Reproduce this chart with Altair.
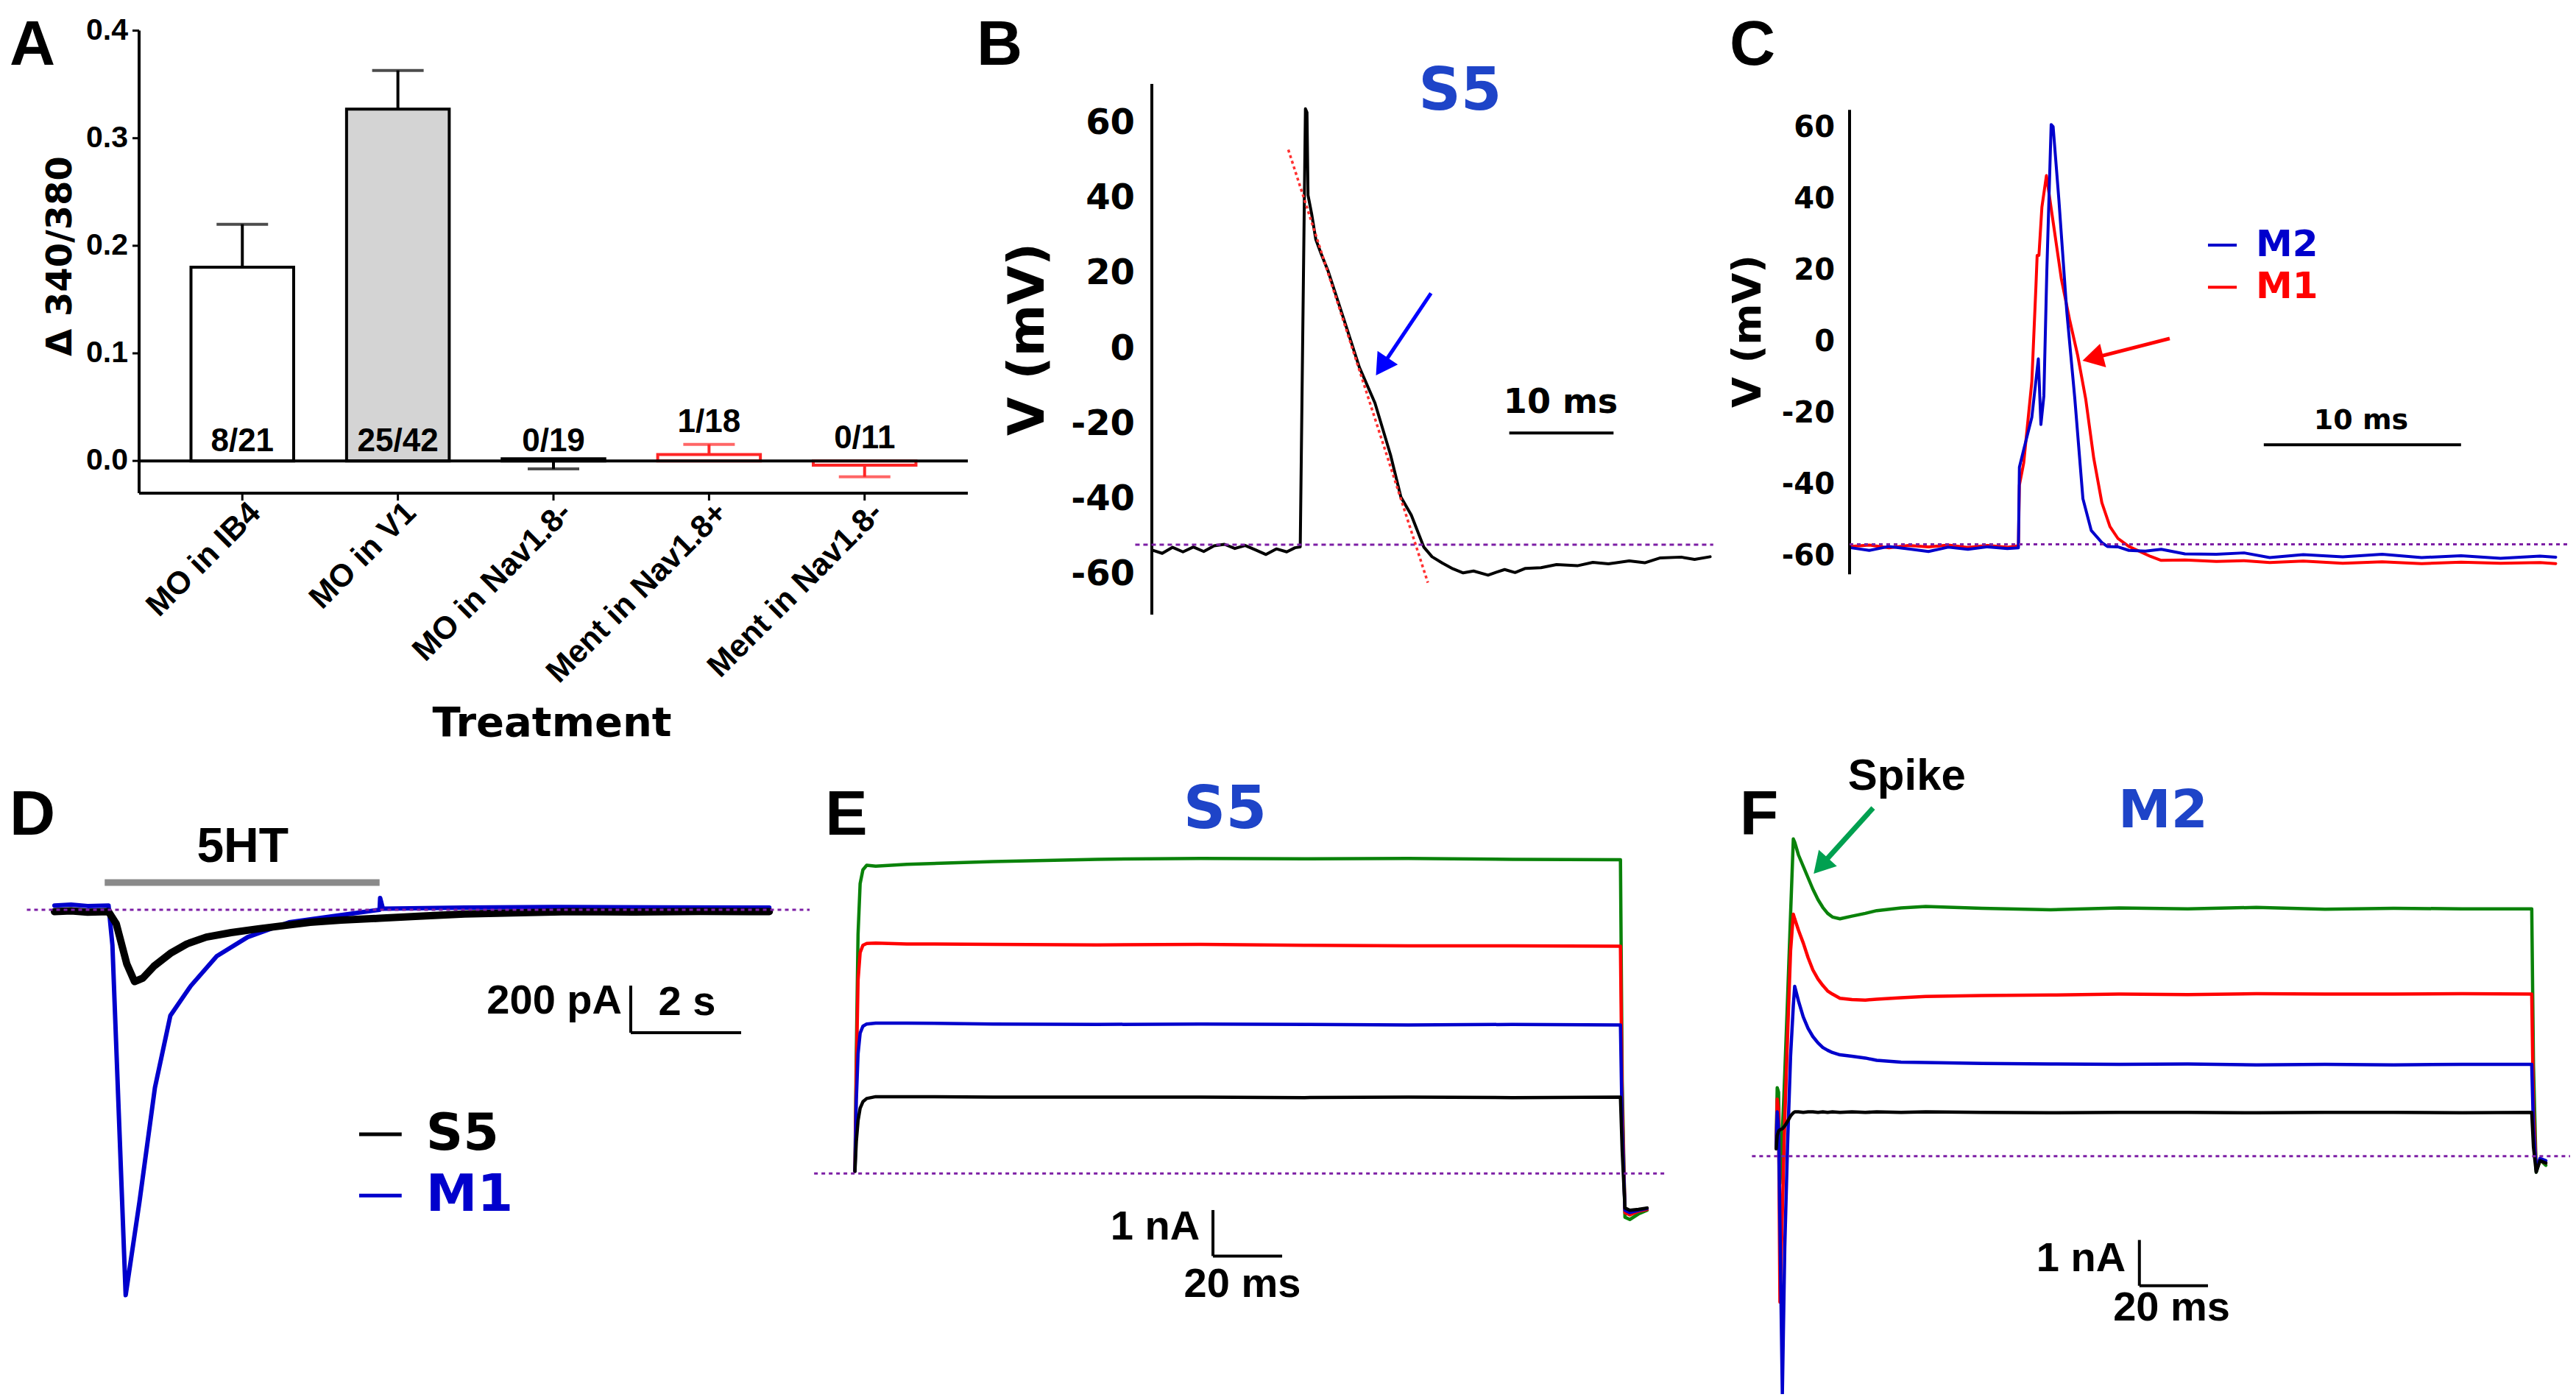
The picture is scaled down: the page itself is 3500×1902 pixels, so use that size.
import altair as alt
import pandas as pd

# ------------------------------------------------------------------ data
# Panel A : bar chart
a_cats = ["MO in IB4", "MO in V1", "MO in Nav1.8-", "Ment in Nav1.8+", "Ment in Nav1.8-"]
a_vals = [0.180, 0.327, 0.002, 0.006, -0.004]
a_err_tip = [0.220, 0.363, -0.0075, 0.0154, -0.0148]
a_counts = ["8/21", "25/42", "0/19", "1/18", "0/11"]
a_count_y = [0.0178, 0.0178, 0.0178, 0.0356, 0.0205]
a_yticks = [0.0, 0.1, 0.2, 0.3, 0.4]

# Panel B : S5 action potential (ms, mV)
b_t = [0.1, 1.0, 2.0, 3.0, 4.0, 5.0, 6.0, 7.0, 8.0, 9.0, 10.0, 11.0, 12.0, 13.0, 13.8, 14.3,
       14.8, 14.95, 15.05, 15.4, 15.8, 16.3, 17.0, 18.5, 20.0, 21.5, 23.0, 24.0, 25.0, 26.2,
       27.0, 28.0, 29.0, 30.0, 31.0, 32.4, 33.2, 34.0, 35.0, 36.0, 37.5, 39.0, 41.0, 42.5,
       44.0, 46.0, 47.5, 49.0, 51.0, 52.3, 53.8]
b_v = [-53.5, -54.3, -52.7, -53.9, -52.6, -53.8, -52.3, -51.9, -53.0, -52.2, -53.4, -54.6,
       -53.1, -53.9, -52.8, -52.6, 64.0, 63.0, 41.0, 36.0, 29.2, 25.5, 20.7, 8.0, -4.8, -14.3,
       -28.1, -39.3, -44.1, -52.6, -55.2, -56.9, -58.4, -59.5, -59.0, -60.1, -59.3, -58.6,
       -59.4, -58.3, -58.1, -57.3, -57.6, -56.7, -57.1, -56.3, -56.8, -55.5, -55.3, -55.9, -55.2]
b_rest = -52.0
b_fit = [(13.15, 53.1), (26.6, -62.1)]
b_yticks = [-60, -40, -20, 0, 20, 40, 60]

# Panel C : M2 / M1 action potentials (ms, mV)
c_t_m2 = [0, 1, 2, 3, 4, 5, 6, 7, 8, 8.56, 8.61, 8.83, 9.24, 9.57, 9.70, 9.85, 10.0, 10.22,
          10.32, 10.61, 11.01, 11.42, 11.83, 12.25, 12.79, 13.07, 13.6, 14.16, 15.0, 15.8, 17.0,
          18.6, 20.0, 21.3, 23.0, 25.0, 27.0, 29.0, 31.0, 33.0, 35.0, 35.8]
c_v_m2 = [-57.5, -58.3, -57.2, -57.9, -58.6, -57.4, -58.0, -57.3, -57.8, -57.6, -35.0, -30.0,
          -21.0, -4.6, -23.0, -15.0, 20.0, 61.1, 60.5, 40.1, 8.8, -15.8, -43.8, -52.7, -56.1,
          -57.2, -57.3, -58.3, -58.5, -58.0, -59.3, -59.4, -59.0, -60.3, -59.5, -60.1, -59.4,
          -60.3, -59.8, -60.5, -59.9, -60.2]
c_t_m1 = [0, 1, 2, 3, 4, 5, 6, 7, 8, 8.56, 8.61, 8.83, 9.24, 9.45, 9.51, 9.60, 9.75, 9.98,
          10.33, 10.74, 11.15, 11.56, 11.97, 12.38, 12.79, 13.2, 13.61, 14.16, 15.26, 15.8, 17.0,
          18.6, 20.0, 21.3, 23.0, 25.0, 27.0, 29.0, 31.0, 33.0, 35.0, 35.8]
c_v_m1 = [-57.2, -56.8, -57.6, -56.9, -57.3, -56.8, -57.5, -56.9, -57.4, -57.0, -40.0, -33.7,
          -11.0, 16.0, 24.4, 24.4, 37.9, 46.8, 33.4, 17.7, 6.5, -3.5, -15.8, -32.5, -44.9,
          -51.6, -55.0, -57.2, -60.0, -61.1, -61.0, -61.4, -61.2, -61.7, -61.3, -61.9, -61.5,
          -62.0, -61.6, -61.9, -61.7, -62.0]
c_rest = -56.6
c_yticks = [-60, -40, -20, 0, 20, 40, 60]
c_series = ["M2", "M1"]

# Panel D : 5HT currents (s, pA)
d_t_s5 = [0.0, 0.3, 0.6, 0.98, 1.12, 1.31, 1.45, 1.6, 1.8, 2.1, 2.4, 2.75, 3.2, 3.69, 4.2,
          4.63, 5.2, 5.89, 6.6, 7.43, 8.3, 9.3, 10.5, 11.7, 12.95]
d_v_s5 = [-8, -5, -10, -8, -60, -230, -305, -290, -240, -185, -145, -116, -97, -81, -66, -53,
          -44, -36, -27, -18, -13, -8, -9, -7, -8]
d_t_m1 = [0.0, 0.3, 0.6, 0.98, 1.05, 1.29, 1.54, 1.82, 2.1, 2.47, 2.94, 3.5, 4.25, 5.09, 5.89,
          5.9, 5.95, 7.43, 9.0, 11.0, 12.95]
d_v_m1 = [18, 22, 16, 18, -150, -1636, -1240, -755, -449, -323, -197, -116, -53, -26, 0, 50, 5,
          9, 12, 10, 9]
d_5ht = (0.91, 5.89)
d_series = ["S5", "M1"]

# Panel E : S5 current steps (ms, nA)
e_t = [0, 0.4, 0.9, 1.5, 2.3, 3.4, 6, 15, 40, 70, 100, 130, 160, 190, 221.3, 221.8, 222.6,
       224, 226.5, 229]
e_green = [0.05, 2.6, 5.2, 6.3, 6.6, 6.7, 6.68, 6.72, 6.78, 6.83, 6.85, 6.84, 6.85, 6.83, 6.82,
           2.0, -0.95, -1.0, -0.88, -0.8]
e_red = [0.05, 2.2, 4.2, 4.8, 4.96, 5.0, 5.01, 4.99, 4.98, 4.97, 4.98, 4.96, 4.95, 4.95, 4.94,
         1.5, -0.85, -0.9, -0.82, -0.78]
e_blue = [0.05, 1.6, 2.6, 3.05, 3.2, 3.25, 3.27, 3.27, 3.25, 3.24, 3.25, 3.24, 3.23, 3.24, 3.23,
          1.0, -0.8, -0.85, -0.8, -0.76]
e_black = [0.05, 0.7, 1.15, 1.42, 1.56, 1.63, 1.67, 1.67, 1.66, 1.66, 1.66, 1.65, 1.66, 1.65,
           1.66, 0.5, -0.75, -0.8, -0.78, -0.75]

# Panel F : M2 current steps (ms, nA)
f_t = [0, 0.3, 0.7, 1.1, 1.8, 2.5, 3.3, 4.2, 5.0, 5.4, 6.5, 7.9, 9.3, 10.7, 12.2, 13.6, 15.0,
       16.4, 18.6, 22.1, 26, 29.3, 36.4, 43.6, 60, 80, 100, 120, 140, 160, 180, 200, 220.3,
       220.8, 221.6, 222.7, 224.4]
f_green = [0.2, 1.5, 1.4, -0.6, 0.5, 1.8, 3.4, 5.3, 6.95, 6.88, 6.6, 6.35, 6.1, 5.85, 5.62,
           5.45, 5.32, 5.24, 5.2, 5.26, 5.32, 5.38, 5.44, 5.47, 5.43, 5.4, 5.44, 5.42, 5.45,
           5.41, 5.43, 5.42, 5.42, 2.0, -0.35, -0.08, -0.2]
f_red = [0.2, 1.25, 1.0, -3.2, -1.2, 0.8, 2.6, 4.5, 5.3, 5.2, 4.95, 4.67, 4.35, 4.08, 3.88,
         3.74, 3.62, 3.55, 3.46, 3.43, 3.42, 3.44, 3.47, 3.5, 3.52, 3.53, 3.55, 3.54, 3.56,
         3.55, 3.55, 3.56, 3.55, 1.0, -0.3, -0.1, -0.15]
f_blue = [0.2, 0.97, 0.6, -1.5, -5.2, -2.0, 0.2, 2.2, 3.3, 3.72, 3.4, 3.05, 2.8, 2.62, 2.48,
          2.38, 2.32, 2.27, 2.22, 2.19, 2.15, 2.1, 2.06, 2.05, 2.03, 2.02, 2.01, 2.02, 2.0,
          2.01, 2.0, 2.01, 2.01, 0.6, -0.3, -0.05, -0.1]
f_black = [0.16, 0.45, 0.55, 0.58, 0.6, 0.66, 0.76, 0.88, 0.95, 0.97, 0.97, 0.96, 0.97, 0.97,
           0.96, 0.97, 0.96, 0.97, 0.96, 0.97, 0.96, 0.97, 0.96, 0.97, 0.96, 0.95, 0.96, 0.96,
           0.95, 0.96, 0.96, 0.95, 0.96, 0.2, -0.35, -0.1, -0.15]

# ------------------------------------------------------------------ layout / style
OFF = 8                      # page margin
W, H = 3484, 1886


def px(v):
    return v - OFF


FONT = "Liberation Sans, Arial, sans-serif"
VFONT = "DejaVu Sans, Verdana, sans-serif"
BLACK, RED, BLUE, GREEN = "#000000", "#ff0000", "#0000cc", "#0a820a"
TITLE_BLUE = "#1e44c8"
PURPLE = "#7d1fa5"
A_FILL = ["#ffffff", "#d4d4d4", "#ffffff", "#ffffff", "#ffffff"]
A_EDGE = [BLACK, BLACK, BLACK, "#ff2525", "#ff2525"]
ONE = pd.DataFrame({"k": [0]})


def trace(t, v, xs, ys, color, width):
    df = pd.DataFrame({"t": t, "v": v, "i": list(range(len(t)))})
    return alt.Chart(df).mark_line(color=color, strokeWidth=width, strokeJoin="round",
                                   strokeCap="round").encode(
        x=alt.X("t:Q", scale=xs, axis=None),
        y=alt.Y("v:Q", scale=ys, axis=None),
        order="i:Q")


def seg(p0, p1, xs, ys, color, width, dash=None):
    df = pd.DataFrame({"t": [p0[0]], "t2": [p1[0]], "v": [p0[1]], "v2": [p1[1]]})
    kw = dict(color=color, strokeWidth=width)
    if dash:
        kw["strokeDash"] = dash
    return alt.Chart(df).mark_rule(**kw).encode(
        x=alt.X("t:Q", scale=xs, axis=None), x2="t2:Q",
        y=alt.Y("v:Q", scale=ys, axis=None), y2="v2:Q")


def label(text, p, xs, ys, size, color=BLACK, font=FONT, align="center"):
    df = pd.DataFrame({"t": [p[0]], "v": [p[1]], "s": [text]})
    return alt.Chart(df).mark_text(font=font, fontSize=size, fontWeight="bold", color=color,
                                   align=align, baseline="middle").encode(
        x=alt.X("t:Q", scale=xs, axis=None), y=alt.Y("v:Q", scale=ys, axis=None), text="s:N")


def head(p, xs, ys, color, angle, size=1100):
    df = pd.DataFrame({"t": [p[0]], "v": [p[1]]})
    return alt.Chart(df).mark_point(shape="triangle-up", filled=True, size=size, angle=angle,
                                    color=color, opacity=1, strokeWidth=0).encode(
        x=alt.X("t:Q", scale=xs, axis=None), y=alt.Y("v:Q", scale=ys, axis=None))


def free_text(s, x, y, size, font=FONT, angle=0, align="center", baseline="middle"):
    return alt.Chart(ONE).mark_text(text=s, font=font, fontSize=size, fontWeight="bold",
                                    color=BLACK, angle=angle, align=align,
                                    baseline=baseline).encode(
        x=alt.value(px(x)), y=alt.value(px(y)))


def y_axis(ys, ax_x, lo, hi, ticks, lab_right, size, font):
    line = alt.Chart(pd.DataFrame({"a": [lo], "b": [hi]})).mark_rule(
        color=BLACK, strokeWidth=4).encode(
        x=alt.value(px(ax_x)), y=alt.Y("a:Q", scale=ys, axis=None), y2="b:Q")
    labs = alt.Chart(pd.DataFrame({"v": ticks, "s": [str(t) for t in ticks]})).mark_text(
        font=font, fontSize=size, fontWeight="bold", align="right", baseline="middle",
        color=BLACK).encode(
        x=alt.value(px(lab_right)), y=alt.Y("v:Q", scale=ys, axis=None), text="s:N")
    return [line, labs]


def qscale(domain, r0, r1):
    return alt.Scale(domain=domain, range=[px(r0), px(r1)], nice=False, zero=False)


# ------------------------------------------------------------------ panel A
dfA = pd.DataFrame({"cat": a_cats, "val": a_vals, "tip": a_err_tip, "lab": a_counts,
                    "ly": a_count_y})
dfA["base"] = 0.0
A_LEFT, A_RIGHT, A_BOTTOM = 189, 1315, 670
A_YMIN = -0.03
xsA = alt.Scale(domain=a_cats, range=[px(A_LEFT), px(A_RIGHT)], paddingInner=0.34,
                paddingOuter=0.3335)
ysA = qscale([A_YMIN, 0.4], A_BOTTOM, 41.6)
A_PPU = (A_BOTTOM - 41.6) / 0.43          # pixels per unit on the y axis
xA = alt.X("cat:N", sort=a_cats, scale=xsA, axis=None)
edge = alt.Scale(domain=a_cats, range=A_EDGE)

a_bars = alt.Chart(dfA).mark_bar(strokeWidth=4).encode(
    x=xA, y=alt.Y("val:Q", scale=ysA, axis=None), y2="base:Q",
    fill=alt.Fill("cat:N", scale=alt.Scale(domain=a_cats, range=A_FILL), legend=None),
    stroke=alt.Stroke("cat:N", scale=edge, legend=None))
a_zero = alt.Chart(pd.DataFrame({"z": [0.0]})).mark_rule(color=BLACK, strokeWidth=4).encode(
    y=alt.Y("z:Q", scale=ysA, axis=None), x=alt.value(px(A_LEFT)), x2=alt.value(px(A_RIGHT)))
a_err = alt.Chart(dfA).mark_rule(strokeWidth=4).encode(
    x=xA, y=alt.Y("val:Q", scale=ysA, axis=None), y2="tip:Q",
    color=alt.Color("cat:N", scale=edge, legend=None))
a_cap = alt.Chart(dfA).mark_tick(thickness=4, size=70).encode(
    x=xA, y=alt.Y("tip:Q", scale=ysA, axis=None),
    color=alt.Color("cat:N", scale=edge, legend=None))
a_text = alt.Chart(dfA).mark_text(font=FONT, fontSize=44, fontWeight="bold", color=BLACK,
                                  baseline="middle").encode(
    x=xA, y=alt.Y("ly:Q", scale=ysA, axis=None), text="lab:N")

# axes of panel A
a_yline = alt.Chart(pd.DataFrame({"a": [A_YMIN], "b": [0.4]})).mark_rule(
    color=BLACK, strokeWidth=4).encode(
    x=alt.value(px(A_LEFT)), y=alt.Y("a:Q", scale=ysA, axis=None), y2="b:Q")
dfAy = pd.DataFrame({"v": a_yticks, "s": [f"{v:.1f}" for v in a_yticks]})
a_yticks_m = alt.Chart(dfAy).mark_rule(color=BLACK, strokeWidth=3).encode(
    x=alt.value(px(A_LEFT - 9)), x2=alt.value(px(A_LEFT)),
    y=alt.Y("v:Q", scale=ysA, axis=None))
a_ylabels = alt.Chart(dfAy).mark_text(font=FONT, fontSize=41, fontWeight="bold", color=BLACK,
                                      align="right", baseline="middle").encode(
    x=alt.value(px(A_LEFT - 15)), y=alt.Y("v:Q", scale=ysA, axis=None), text="s:N")
a_xline = alt.Chart(pd.DataFrame({"z": [A_YMIN]})).mark_rule(color=BLACK, strokeWidth=4).encode(
    y=alt.Y("z:Q", scale=ysA, axis=None), x=alt.value(px(A_LEFT)), x2=alt.value(px(A_RIGHT)))
dfAx = pd.DataFrame({"cat": a_cats, "y0": A_YMIN, "y1": A_YMIN - 10 / A_PPU,
                     "yl": A_YMIN - 8 / A_PPU})
a_xticks_m = alt.Chart(dfAx).mark_rule(color=BLACK, strokeWidth=3).encode(
    x=xA, y=alt.Y("y0:Q", scale=ysA, axis=None), y2="y1:Q")
a_xlabels = alt.Chart(dfAx).mark_text(font=FONT, fontSize=43, fontWeight="bold", color=BLACK,
                                      align="right", baseline="top", angle=315, dx=4).encode(
    x=xA, y=alt.Y("yl:Q", scale=ysA, axis=None), text="cat:N")
a_ytitle = free_text("\u0394 340/380", 83, 348, 48, font=VFONT, angle=270)
a_xtitle = free_text("Treatment", 750, 983, 56, font=VFONT)

panelA = alt.layer(a_bars, a_zero, a_err, a_cap, a_text, a_yline, a_yticks_m, a_ylabels,
                   a_xline, a_xticks_m, a_xlabels, a_ytitle, a_xtitle)

# ------------------------------------------------------------------ panel B
xsB = qscale([0, 54.5], 1565, 2333.45)
ysB = qscale([-70.6, 70.6], 835, 114)
panelB = alt.layer(
    trace(b_t, b_v, xsB, ysB, BLACK, 4),
    *y_axis(ysB, 1565, -70.6, 70.6, b_yticks, 1542, 48, VFONT),
    free_text("V (mV)", 1398, 461, 68, font=VFONT, angle=270),
    seg((-1.6, b_rest), (54.1, b_rest), xsB, ysB, PURPLE, 3, dash=[6, 5]),
    seg(b_fit[0], b_fit[1], xsB, ysB, "#ff3030", 3.5, dash=[4, 4]),
    seg((26.9, 14.9), (22.16, -4.6), xsB, ysB, "#0000ff", 5),
    head((22.16, -4.6), xsB, ysB, "#0000ff", 213.7),
    seg((34.44, -22.3), (44.49, -22.3), xsB, ysB, BLACK, 4),
    label("10 ms", (39.4, -14.2), xsB, ysB, 46, font=VFONT),
    label("S5", (29.7, 68.4), xsB, ysB, 80, color=TITLE_BLUE, font=VFONT),
)

# ------------------------------------------------------------------ panel C
xsC = qscale([0, 36.6], 2513, 3493.9)
ysC = qscale([-65, 65.2], 780.2, 149.3)
panelC = alt.layer(
    trace(c_t_m1, c_v_m1, xsC, ysC, RED, 4),
    trace(c_t_m2, c_v_m2, xsC, ysC, BLUE, 4),
    *y_axis(ysC, 2513, -65, 65.2, c_yticks, 2493, 40, VFONT),
    free_text("V (mV)", 2376, 450, 54, font=VFONT, angle=270),
    seg((0, c_rest), (36.6, c_rest), xsC, ysC, PURPLE, 3, dash=[5, 5]),
    seg((18.17, 27.3), (19.63, 27.3), xsC, ysC, BLUE, 4),
    seg((18.17, 15.5), (19.63, 15.5), xsC, ysC, RED, 4),
    label(c_series[0], (20.6, 27.3), xsC, ysC, 50, color=BLUE, font=VFONT, align="left"),
    label(c_series[1], (20.6, 15.5), xsC, ysC, 50, color=RED, font=VFONT, align="left"),
    seg((16.23, 1.1), (12.33, -4.4), xsC, ysC, RED, 5),
    head((12.33, -4.4), xsC, ysC, RED, 255.7),
    seg((21.0, -28.7), (31.0, -28.7), xsC, ysC, BLACK, 4),
    label("10 ms", (25.93, -22.0), xsC, ysC, 38, font=VFONT),
)

# ------------------------------------------------------------------ panel D
xsD = qscale([-0.6, 13.6], 29, 1094)
ysD = qscale([-1700, 450], 1780, 1092)
panelD = alt.layer(
    trace(d_t_m1, d_v_m1, xsD, ysD, BLUE, 6),
    trace(d_t_s5, d_v_s5, xsD, ysD, BLACK, 10),
    seg((-0.5, 0), (13.68, 0), xsD, ysD, PURPLE, 3, dash=[5, 5]),
    seg((d_5ht[0], 115.6), (d_5ht[1], 115.6), xsD, ysD, "#8a8a8a", 9),
    label("5HT", (3.41, 265), xsD, ysD, 66),
    seg((10.44, -322), (10.44, -522), xsD, ysD, BLACK, 4),
    seg((10.44, -522), (12.44, -522), xsD, ysD, BLACK, 4),
    label("200 pA", (10.28, -386), xsD, ysD, 56, align="right"),
    label("2 s", (11.46, -394), xsD, ysD, 56),
    seg((5.52, -953), (6.29, -953), xsD, ysD, BLACK, 5),
    seg((5.52, -1213), (6.29, -1213), xsD, ysD, BLUE, 5),
    label(d_series[0], (6.73, -953), xsD, ysD, 70, font=VFONT, align="left"),
    label(d_series[1], (6.73, -1213), xsD, ysD, 70, color=BLUE, font=VFONT, align="left"),
)

# ------------------------------------------------------------------ panel E
xsE = qscale([-12, 235], 1105.2, 2266.1)
ysE = qscale([-2.5, 8], 1750.5, 1094.3)
panelE = alt.layer(
    trace(e_t, e_green, xsE, ysE, GREEN, 4.5),
    trace(e_t, e_red, xsE, ysE, RED, 4.5),
    trace(e_t, e_blue, xsE, ysE, BLUE, 4.5),
    trace(e_t, e_black, xsE, ysE, BLACK, 4.5),
    seg((-11.8, 0), (235, 0), xsE, ysE, PURPLE, 3, dash=[5, 5]),
    label("S5", (107, 7.9), xsE, ysE, 80, color=TITLE_BLUE, font=VFONT),
    seg((103.5, -0.795), (103.5, -1.795), xsE, ysE, BLACK, 4),
    seg((103.5, -1.795), (123.5, -1.795), xsE, ysE, BLACK, 4),
    label("1 nA", (99.7, -1.16), xsE, ysE, 56, align="right"),
    label("20 ms", (112, -2.41), xsE, ysE, 56),
)

# ------------------------------------------------------------------ panel F
xsF = qscale([-8, 232], 2376, 3494.4)
ysF = qscale([-5.5, 7.6], 1911.7, 1099.5)
panelF = alt.layer(
    trace(f_t, f_green, xsF, ysF, GREEN, 4.5),
    trace(f_t, f_red, xsF, ysF, RED, 4.5),
    trace(f_t, f_blue, xsF, ysF, BLUE, 4.5),
    trace(f_t, f_black, xsF, ysF, BLACK, 4.5),
    seg((-7.06, 0), (232, 0), xsF, ysF, PURPLE, 3, dash=[5, 5]),
    label("M2", (112.8, 7.56), xsF, ysF, 72, color=TITLE_BLUE, font=VFONT),
    label("Spike", (38.1, 8.32), xsF, ysF, 60),
    seg((28.26, 7.63), (13.0, 6.36), xsF, ysF, "#00a050", 7),
    head((13.0, 6.36), xsF, ysF, "#00a050", 222.1),
    seg((105.9, -1.837), (105.9, -2.84), xsF, ysF, BLACK, 4),
    seg((105.9, -2.84), (125.9, -2.84), xsF, ysF, BLACK, 4),
    label("1 nA", (101.9, -2.25), xsF, ysF, 56, align="right"),
    label("20 ms", (115.3, -3.32), xsF, ysF, 56),
)

# ------------------------------------------------------------------ panel letters
letters = [free_text(ch, lx, ly, 86, baseline="alphabetic")
           for ch, (lx, ly) in zip("ABCDEF", [(44, 88), (1358, 88), (2381, 88), (44, 1134),
                                              (1150, 1134), (2390, 1134)])]

chart = alt.layer(panelA, panelB, panelC, panelD, panelE, panelF, *letters).resolve_scale(
    x="independent", y="independent"
).properties(
    width=W, height=H, autosize=alt.AutoSizeParams(type="none"), padding=0
).configure_view(strokeWidth=0)

chart.save("out.html", embed_options={"renderer": "svg", "actions": False})
